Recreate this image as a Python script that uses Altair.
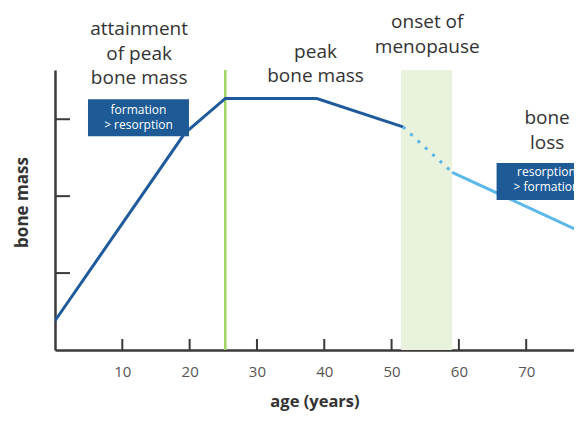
import altair as alt
import pandas as pd

# ---- data ----
dark_age = [0, 19.3, 25.3, 38.9, 51.7]
dark_mass = [0.38, 2.82, 3.27, 3.27, 2.90]
dot_age = [51.7, 59.0]
dot_mass = [2.90, 2.31]
light_age = [59.0, 78.3]
light_mass = [2.31, 1.53]

peak_age = [25.3]
meno_start = [51.4]
meno_end = [59.0]

x_ticks = [10, 20, 30, 40, 50, 60, 70]
y_ticks = [1, 2, 3]

labels = ["attainment\nof peak\nbone mass", "peak\nbone mass", "onset of\nmenopause", "bone\nloss"]
label_age = [12.5, 38.7, 55.3, 73.1]
label_mass = [4.17, 3.88, 4.26, 3.01]   # position of first line

box_text = ["formation\n> resorption", "resorption\n> formation"]
box_age0 = [4.9, 65.6]
box_age1 = [19.9, 81.0]
box_mass0 = [2.78, 1.95]
box_mass1 = [3.26, 2.43]
box_text_age = [12.4, 73.0]
box_text_mass = [3.12, 2.31]           # position of first line

X_MAX = 77.1
Y_MAX = 3.64
W, H = 519, 280
FONT = "Open Sans"

xs = alt.Scale(domain=[0, X_MAX], nice=False, zero=False)
ys = alt.Scale(domain=[0, Y_MAX], nice=False, zero=False)

x_axis = alt.Axis(
    values=x_ticks, ticks=False, grid=False, labelPadding=14,
    labelFontSize=15, labelFont=FONT, labelColor="#555",
    domainColor="#3a3a3a", domainWidth=2.5,
    title="age (years)", titleFont=FONT, titleFontSize=16.5,
    titleFontWeight="bold", titleColor="#333", titlePadding=14,
)
y_axis = alt.Axis(
    values=y_ticks, ticks=False, labels=False, grid=False,
    domainColor="#3a3a3a", domainWidth=2.5,
    title="bone mass", titleFont=FONT, titleFontSize=17,
    titleFontWeight="bold", titleColor="#333", titlePadding=24, titleY=132,
)


def X(f):
    return alt.X(f, scale=xs, axis=x_axis, title="age (years)")


def Y(f):
    return alt.Y(f, scale=ys, axis=y_axis, title="bone mass")


dark = pd.DataFrame({"age": dark_age, "mass": dark_mass})
dot = pd.DataFrame({"age": dot_age, "mass": dot_mass})
light = pd.DataFrame({"age": light_age, "mass": light_mass})
peak = pd.DataFrame({"age": peak_age})
meno = pd.DataFrame({"age": meno_start, "age2": meno_end})
xt = pd.DataFrame({"age": x_ticks})
yt = pd.DataFrame({"mass": y_ticks})
lab = pd.DataFrame({"txt": labels, "age": label_age, "mass": label_mass})
boxes = pd.DataFrame({"age": box_age0, "age2": box_age1, "mass": box_mass0, "mass2": box_mass1})
btxt = pd.DataFrame({"txt": box_text, "age": box_text_age, "mass": box_text_mass})

band = alt.Chart(meno).mark_rect(color="#e8f2dc").encode(x=X("age:Q"), x2="age2:Q")

green = alt.Chart(peak).mark_rule(color="#9ed45f", strokeWidth=2.5).encode(x=X("age:Q"))

base_line = alt.Chart(dark).mark_line(color="#1f5b9c", strokeWidth=3, clip=True).encode(
    x=X("age:Q"), y=Y("mass:Q")
)

dotted = alt.Chart(dot).mark_line(
    color="#5ab4e5", strokeWidth=3, strokeDash=[3, 7], clip=True
).encode(x=X("age:Q"), y=Y("mass:Q"))

light_line = alt.Chart(light).mark_line(color="#5bb8e8", strokeWidth=3, clip=True).encode(
    x=X("age:Q"), y=Y("mass:Q")
)

box_rects = alt.Chart(boxes).mark_rect(color="#1d5a96", clip=True).encode(
    x=X("age:Q"), x2="age2:Q", y=Y("mass:Q"), y2="mass2:Q"
)

box_labels = alt.Chart(btxt).mark_text(
    font=FONT, fontSize=12, lineHeight=15, lineBreak="\n", color="white",
    align="center", baseline="middle",
).encode(x=X("age:Q"), y=Y("mass:Q"), text="txt:N")

annot = alt.Chart(lab).mark_text(
    font=FONT, fontSize=19, lineHeight=24.5, lineBreak="\n", color="#333",
    align="center", baseline="middle",
).encode(x=X("age:Q"), y=Y("mass:Q"), text="txt:N")

xtick_rules = alt.Chart(xt).mark_rule(color="#3a3a3a", strokeWidth=2).encode(
    x=X("age:Q"), y=alt.value(H), y2=alt.value(H - 11)
)
ytick_rules = alt.Chart(yt).mark_rule(color="#3a3a3a", strokeWidth=2).encode(
    y=Y("mass:Q"), x=alt.value(0), x2=alt.value(15)
)

chart = alt.layer(
    band, green, base_line, dotted, light_line, box_rects, box_labels, annot,
    xtick_rules, ytick_rules,
).properties(
    width=W, height=H,
    autosize=alt.AutoSizeParams(type="none"),
    padding={"left": 47, "top": 62, "right": 0, "bottom": 64},
    background="white",
).configure_view(stroke=None)

chart.save("out.html", embed_options={"renderer": "svg", "actions": False})
